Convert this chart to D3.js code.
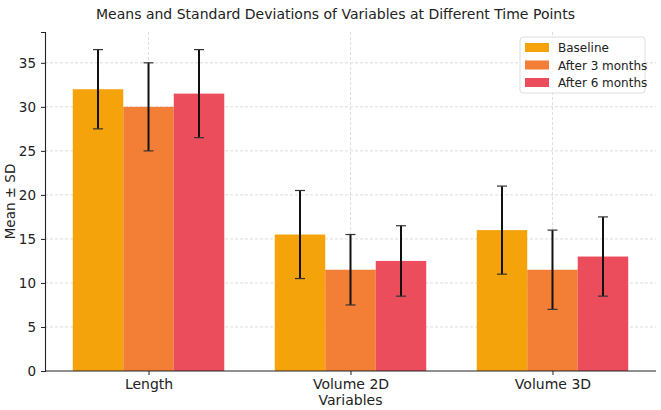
<!DOCTYPE html>
<html>
<head>
<meta charset="UTF-8">
<title>Means and SD</title>
<script src="https://d3js.org/d3.v7.min.js"></script>
<style>
	body { margin: 0; background: #fff; }
	text { font-family: "DejaVu Sans", sans-serif; fill: #222; }
</style>
</head>
<body>
	<div id="chart"></div>
	<script type="text/javascript">
		// data
		let categories = ["Length", "Volume 2D", "Volume 3D"];
		let series = ["Baseline", "After 3 months", "After 6 months"];
		let means = [
			[32, 15.5, 16],      // Baseline
			[30, 11.5, 11.5],    // After 3 months
			[31.5, 12.5, 13]     // After 6 months
		];
		let sds = [
			[4.5, 5, 5],
			[5, 4, 4.5],
			[5, 4, 4.5]
		];
		let yTicks = [0, 5, 10, 15, 20, 25, 30, 35];
		let colors = ["#f4a30a", "#f27f35", "#ec4d5c"];

		let width = 661, height = 410;
		let margin = {top: 32, right: 5, bottom: 39, left: 45};

		let svg = d3.select("#chart")
			.append("svg")
			.attr("width", width)
			.attr("height", height);

		let iw = width - margin.left - margin.right;
		let ih = height - margin.top - margin.bottom;

		// matplotlib style: numeric x with bar width 0.25
		let x = d3.scaleLinear().domain([-0.5125, 2.5125]).range([0, iw]);
		let y = d3.scaleLinear().domain([0, 38.5]).range([ih, 0]);
		let barW = 0.25;

		let g = svg.append("g").attr("transform", `translate(${margin.left},${margin.top})`);

		// grid
		g.append("g")
			.selectAll("line")
			.data(yTicks.filter(d => d > 0))
			.join("line")
			.attr("x1", 0).attr("x2", iw)
			.attr("y1", d => y(d)).attr("y2", d => y(d))
			.attr("stroke", "#d4d4d4")
			.attr("stroke-dasharray", "3,2")
			.attr("stroke-width", 0.8);
		g.append("g")
			.selectAll("line")
			.data(categories)
			.join("line")
			.attr("x1", (d, i) => x(i)).attr("x2", (d, i) => x(i))
			.attr("y1", 0).attr("y2", ih)
			.attr("stroke", "#d4d4d4")
			.attr("stroke-dasharray", "3,2")
			.attr("stroke-width", 0.8);

		// bars
		series.forEach((s, si) => {
			let off = (si - 1) * barW;
			g.append("g")
				.selectAll("rect")
				.data(means[si])
				.join("rect")
				.attr("x", (d, i) => x(i + off - barW / 2))
				.attr("width", x(barW) - x(0))
				.attr("y", d => y(d))
				.attr("height", d => ih - y(d))
				.attr("fill", colors[si]);
		});

		// error bars
		series.forEach((s, si) => {
			let off = (si - 1) * barW;
			let eg = g.append("g");
			means[si].forEach((m, i) => {
				let cx = x(i + off);
				let lo = y(m - sds[si][i]), hi = y(m + sds[si][i]);
				eg.append("line")
					.attr("x1", cx).attr("x2", cx)
					.attr("y1", lo).attr("y2", hi)
					.attr("stroke", "#111").attr("stroke-width", 2);
				[lo, hi].forEach(yy => {
					eg.append("line")
						.attr("x1", cx - 5).attr("x2", cx + 5)
						.attr("y1", yy).attr("y2", yy)
						.attr("stroke", "#333").attr("stroke-width", 1.2);
				});
			});
		});

		// axes
		let yAxis = d3.axisLeft(y).tickValues(yTicks).tickSize(4).tickPadding(5);
		let ya = g.append("g").call(yAxis);
		ya.select(".domain").attr("stroke", "#222").attr("stroke-width", 1.1);
		ya.selectAll(".tick line").attr("stroke", "#222");
		ya.selectAll(".tick text").attr("font-size", 13.5).style("font-family", "DejaVu Sans");

		let xAxis = d3.axisBottom(x).tickValues([0, 1, 2]).tickFormat(i => categories[i]).tickSize(4).tickPadding(4);
		let xa = g.append("g").attr("transform", `translate(0,${ih})`).call(xAxis);
		xa.select(".domain").attr("stroke", "#222").attr("stroke-width", 1.1).attr("d", `M0,0H${iw}`);
		xa.selectAll(".tick line").attr("stroke", "#222");
		xa.selectAll(".tick text").attr("font-size", 14).style("font-family", "DejaVu Sans");

		// titles
		svg.append("text")
			.attr("x", width / 2 + 5).attr("y", 19)
			.attr("text-anchor", "middle")
			.attr("font-size", 14)
			.text("Means and Standard Deviations of Variables at Different Time Points");
		svg.append("text")
			.attr("x", margin.left + x(1)).attr("y", 405)
			.attr("text-anchor", "middle")
			.attr("font-size", 14)
			.text("Variables");
		svg.append("text")
			.attr("transform", `translate(15,${margin.top + ih / 2}) rotate(-90)`)
			.attr("text-anchor", "middle")
			.attr("font-size", 13.5)
			.text("Mean ± SD");

		// legend
		let lg = svg.append("g").attr("transform", "translate(520,37)");
		lg.append("rect")
			.attr("width", 125).attr("height", 56)
			.attr("rx", 3)
			.attr("fill", "#fff").attr("fill-opacity", 0.85)
			.attr("stroke", "#ddd");
		series.forEach((s, si) => {
			lg.append("rect")
				.attr("x", 5).attr("y", 6 + si * 17.5)
				.attr("width", 24).attr("height", 9)
				.attr("fill", colors[si]);
			lg.append("text")
				.attr("x", 38).attr("y", 15 + si * 17.5)
				.attr("font-size", 12)
				.text(s);
		});
	</script>
</body>
</html>
